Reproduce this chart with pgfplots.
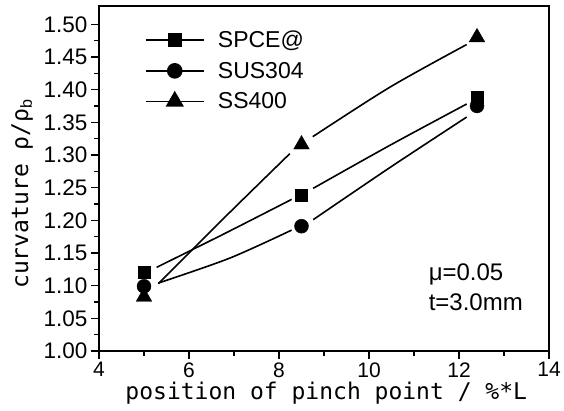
\documentclass[border=0pt]{standalone}
\usepackage{fontspec}
\setmainfont{Liberation Sans}
\newfontfamily\monofont{DejaVu Sans Mono}
\usepackage{pgfplots}
\pgfplotsset{compat=1.18}

\begin{document}
\begin{tikzpicture}
\useasboundingbox (-99pt,-59pt) rectangle (465pt,351pt);
\begin{axis}[
  at={(0,0)}, anchor=south west,
  scale only axis, width=450pt, height=345pt,
  clip mode=individual,
  xmin=4, xmax=14, ymin=1.0, ymax=1.528,
  xtick={4,6,8,10,12,14}, minor x tick num=1,
  ytick={1.00,1.05,1.10,1.15,1.20,1.25,1.30,1.35,1.40,1.45,1.50},
  minor y tick num=1,
  xtick pos=bottom, ytick pos=left, tick align=outside,
  major tick length=8pt, minor tick length=5pt,
  every tick/.style={black, line width=1.4pt},
  axis line style={line width=2pt},
  /pgf/number format/assume math mode=true,
  yticklabel style={/pgf/number format/.cd, fixed, fixed zerofill, precision=2},
  tick label style={font=\fontsize{22.5}{24}\selectfont},
  xticklabel style={font=\fontsize{21}{23}\selectfont},
  legend style={draw=none, fill=none, at={(0.095,0.94)}, anchor=north west,
    font=\fontsize{23}{26}\selectfont, row sep=9pt},
  legend cell align=left,
  legend image code/.code={
    \draw[#1, sharp plot, line width=1.6pt, mark repeat=2, mark phase=2]
      plot coordinates {(0pt,0pt) (29pt,0pt) (58pt,0pt)};
    \path (70pt,0pt);},
]
% fitted curves, drawn with gaps round the middle markers
\addplot[black, line width=1.6pt, smooth, forget plot]
  coordinates {(5.28,1.128) (6.80,1.180) (8.28,1.232)};
\addplot[black, line width=1.6pt, smooth, forget plot]
  coordinates {(8.76,1.249) (10.47,1.315) (12.17,1.378)};
\addplot[black, line width=1.6pt, smooth, forget plot]
  coordinates {(5.32,1.104) (6.90,1.142) (8.28,1.185)};
\addplot[black, line width=1.6pt, smooth, forget plot]
  coordinates {(8.76,1.201) (10.47,1.281) (12.17,1.358)};
\addplot[black, line width=1.6pt, smooth, forget plot]
  coordinates {(5.32,1.103) (6.80,1.205) (8.24,1.302)};
\addplot[black, line width=1.6pt, smooth, forget plot]
  coordinates {(8.75,1.328) (10.47,1.404) (12.17,1.469)};
% measured points
\addplot[black, only marks, mark=square*, mark size=6pt]
  coordinates {(5,1.120) (8.5,1.238) (12.4,1.388)};
\addlegendentry{SPCE@}
\addplot[black, only marks, mark=*, mark size=7pt]
  coordinates {(5,1.099) (8.5,1.191) (12.4,1.375)};
\addlegendentry{SUS304}
\addplot[black, only marks, mark=triangle*, mark size=9pt]
  coordinates {(5,1.083) (8.5,1.316) (12.4,1.480)};
\addlegendentry{SS400}
\node[anchor=west, align=left, font=\fontsize{24}{30}\selectfont]
  at (axis cs:11.25,1.098) {μ=0.05\\t=3.0mm};
\node[rotate=90, font=\monofont\fontsize{23}{25}\selectfont]
  at (axis description cs:-0.171,0.455) {curvature ρ/ρ$_{\mathrm{b}}$};
\node[font=\monofont\fontsize{23}{25}\selectfont, anchor=base]
  at (axis description cs:0.505,-0.14) {position of pinch point / \%*L};
\end{axis}
\end{tikzpicture}
\end{document}
